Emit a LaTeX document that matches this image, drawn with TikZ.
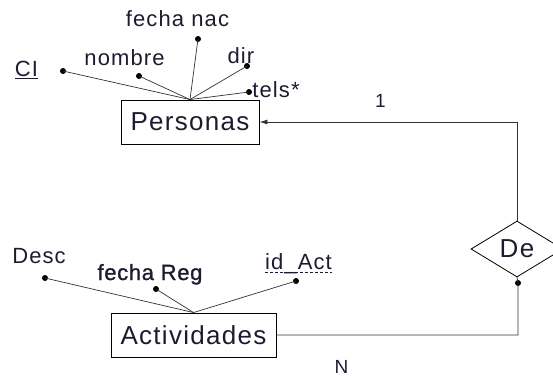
\documentclass[tikz,border=0pt]{standalone}
\usepackage{fontspec}
\setmainfont{Liberation Sans}[LetterSpace=5]
\newfontfamily\semibold{Liberation Sans}[LetterSpace=3,FakeBold=1.2]
\usetikzlibrary{shapes.geometric,arrows.meta}
\definecolor{ink}{RGB}{28,28,48}
\definecolor{wire}{RGB}{50,50,50}
\tikzset{
  entity/.style={draw=black,line width=0.9pt,minimum height=44pt,inner sep=0pt,font=\fontsize{26}{30}\selectfont,text=ink},
  rel/.style={draw=black,line width=0.8pt,shape=diamond,minimum width=92pt,minimum height=56pt,inner sep=0pt,font=\fontsize{26}{30}\selectfont,text=ink},
  attr/.style={anchor=base,inner sep=0pt,font=\fontsize{22}{25}\selectfont,text=ink},
  card/.style={anchor=base,inner sep=0pt,font=\fontsize{19}{22}\selectfont,text=ink},
  pin/.style={circle,fill=black,inner sep=0pt,minimum size=6pt},
  link/.style={draw=wire,line width=0.7pt},
  conn/.style={draw=wire,line width=0.8pt}
}
\begin{document}
\begin{tikzpicture}[x=1pt,y=-1pt]
\useasboundingbox (0,0) rectangle (553,376);
% entities
\node[entity,minimum width=138pt] (personas) at (190,122) {Personas};
\node[entity,minimum width=165pt] (actividades) at (193.5,335) {Actividades};
\node[rel] (de) at (517,249) {De};
% attribute pins of Personas
\node[pin] (pci) at (63,71) {};
\node[pin] (pnombre) at (139,76) {};
\node[pin] (pfecha) at (198,39) {};
\node[pin] (pdir) at (247,66) {};
\node[pin] (ptels) at (249,92) {};
% attribute labels of Personas
\node[attr] (lci) at (26.5,76) {CI};
\node[attr] (lnombre) at (124.5,65) {nombre};
\node[attr] (lfecha) at (177.5,26) {fecha nac};
\node[attr] (ldir) at (241,63) {dir};
\node[attr] (ltels) at (276,97) {tels*};
\draw[ink,line width=0.8pt] ([yshift=-2.5pt]lci.base west) -- ([yshift=-2.5pt]lci.base east);
\foreach \p in {pci,pnombre,pfecha,pdir,ptels}
  \draw[link] (\p.center) -- (personas.north);
% attribute pins of Actividades
\node[pin] (pdesc) at (45,278) {};
\node[pin] (preg) at (156,289) {};
\node[pin] (pid) at (296,281) {};
\node[attr] (ldesc) at (39,263) {Desc};
\node[attr,font=\fontsize{22}{25}\semibold] (lreg) at (150,280) {fecha Reg};
\node[attr] (lid) at (298.5,269) {id\_Act};
\draw[ink,line width=0.8pt,dash pattern=on 3pt off 2pt] ([yshift=-3.5pt]lid.base west) -- ([yshift=-3.5pt]lid.base east);
\foreach \p in {pdesc,preg,pid}
  \draw[link] (\p.center) -- (actividades.north);
% relationship connectors
\node[pin] (dedot) at (518,283) {};
\draw[conn,-{Latex[length=8pt,width=5pt]}] (de.north) |- (personas.east);
\draw[conn] (de.south) -- (dedot.center) |- (actividades.east);
% cardinalities
\node[card] (c1) at (380.5,107) {1};
\node[card] (cn) at (341.5,373) {N};
\end{tikzpicture}
\end{document}
